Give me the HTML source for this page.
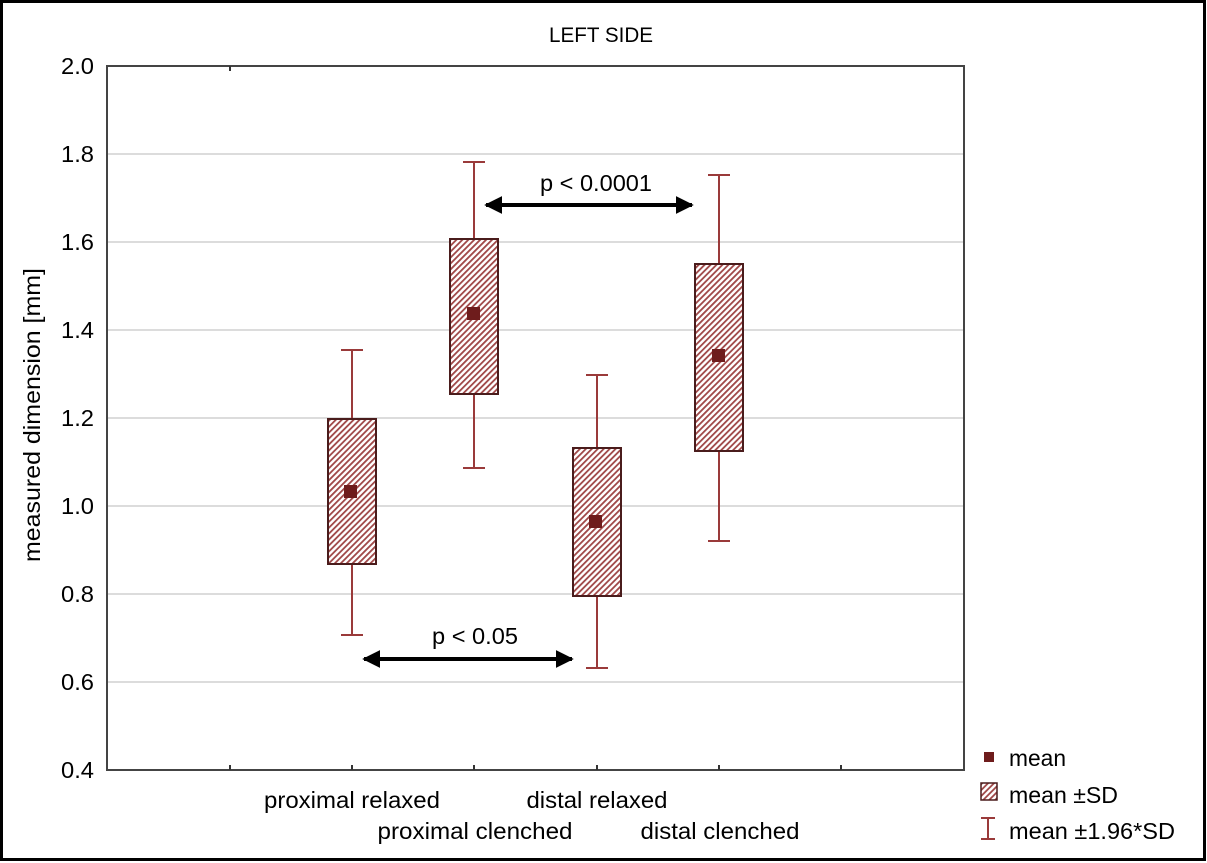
<!DOCTYPE html>
<html><head><meta charset="utf-8"><style>
html,body{margin:0;padding:0;background:#fff}
svg{display:block}
text{font-family:"Liberation Sans",sans-serif;fill:#000}
</style></head><body>
<svg width="1207" height="863" viewBox="0 0 1207 863" xmlns="http://www.w3.org/2000/svg">
<defs>
<pattern id="h" patternUnits="userSpaceOnUse" width="4.2" height="4.2" patternTransform="rotate(45)">
<rect width="4.2" height="4.2" fill="#fff"/>
<rect x="0" y="0" width="1.8" height="4.2" fill="#a04848"/>
</pattern>
<marker id="a" viewBox="0 0 10 10" refX="9" refY="5" markerWidth="4.5" markerHeight="4.5" orient="auto-start-reverse" markerUnits="strokeWidth">
<path d="M0,0 L10,5 L0,10 z" fill="#000"/>
</marker>
</defs>
<rect x="1.5" y="1.5" width="1203" height="858" fill="#fff" stroke="#000" stroke-width="3"/>
<text x="601" y="42" font-size="21" text-anchor="middle" textLength="104" lengthAdjust="spacingAndGlyphs">LEFT SIDE</text>
<g stroke="#dcdcdc" stroke-width="2">
<line x1="108" y1="154" x2="964" y2="154"/>
<line x1="108" y1="242" x2="964" y2="242"/>
<line x1="108" y1="330" x2="964" y2="330"/>
<line x1="108" y1="418" x2="964" y2="418"/>
<line x1="108" y1="506" x2="964" y2="506"/>
<line x1="108" y1="594" x2="964" y2="594"/>
<line x1="108" y1="682" x2="964" y2="682"/>
</g>
<rect x="107" y="66" width="857" height="704" fill="none" stroke="#444" stroke-width="2"/>
<g stroke="#333" stroke-width="2">
<line x1="230" y1="770" x2="230" y2="765"/><line x1="352" y1="770" x2="352" y2="765"/><line x1="474" y1="770" x2="474" y2="765"/><line x1="597" y1="770" x2="597" y2="765"/><line x1="719" y1="770" x2="719" y2="765"/><line x1="841" y1="770" x2="841" y2="765"/>
<line x1="230" y1="66" x2="230" y2="71"/>
</g>
<g font-size="23" text-anchor="end">
<text x="94" y="74" textLength="33" lengthAdjust="spacingAndGlyphs">2.0</text><text x="94" y="162" textLength="33" lengthAdjust="spacingAndGlyphs">1.8</text><text x="94" y="250" textLength="33" lengthAdjust="spacingAndGlyphs">1.6</text><text x="94" y="338" textLength="33" lengthAdjust="spacingAndGlyphs">1.4</text><text x="94" y="426" textLength="33" lengthAdjust="spacingAndGlyphs">1.2</text><text x="94" y="514" textLength="33" lengthAdjust="spacingAndGlyphs">1.0</text><text x="94" y="602" textLength="33" lengthAdjust="spacingAndGlyphs">0.8</text><text x="94" y="690" textLength="33" lengthAdjust="spacingAndGlyphs">0.6</text><text x="94" y="778" textLength="33" lengthAdjust="spacingAndGlyphs">0.4</text>
</g>
<text transform="translate(40,415) rotate(-90)" font-size="23" text-anchor="middle" textLength="294" lengthAdjust="spacingAndGlyphs">measured  dimension [mm]</text>
<g stroke="#9a3a3a" stroke-width="2">
<line x1="352" y1="350" x2="352" y2="635"/><line x1="341" y1="350" x2="363" y2="350"/><line x1="341" y1="635" x2="363" y2="635"/>
<line x1="474" y1="162" x2="474" y2="468"/><line x1="463" y1="162" x2="485" y2="162"/><line x1="463" y1="468" x2="485" y2="468"/>
<line x1="597" y1="375" x2="597" y2="668"/><line x1="586" y1="375" x2="608" y2="375"/><line x1="586" y1="668" x2="608" y2="668"/>
<line x1="719" y1="175" x2="719" y2="541"/><line x1="708" y1="175" x2="730" y2="175"/><line x1="708" y1="541" x2="730" y2="541"/>
</g>
<g fill="url(#h)" stroke="#4a1c1c" stroke-width="2">
<rect x="328" y="419" width="48" height="145"/>
<rect x="450" y="239" width="48" height="155"/>
<rect x="573" y="448" width="48" height="148"/>
<rect x="695" y="264" width="48" height="187"/>
</g>
<g fill="#6e1c1c">
<rect x="344" y="485" width="13" height="13"/>
<rect x="467" y="307" width="13" height="13"/>
<rect x="589" y="515" width="13" height="13"/>
<rect x="712" y="349" width="13" height="13"/>
</g>
<line x1="486" y1="205" x2="692" y2="205" stroke="#000" stroke-width="4" marker-start="url(#a)" marker-end="url(#a)"/>
<text x="596" y="191" font-size="23" text-anchor="middle" textLength="112" lengthAdjust="spacingAndGlyphs">p &lt; 0.0001</text>
<line x1="364" y1="659" x2="572" y2="659" stroke="#000" stroke-width="4" marker-start="url(#a)" marker-end="url(#a)"/>
<text x="475" y="644" font-size="23" text-anchor="middle" textLength="86" lengthAdjust="spacingAndGlyphs">p &lt; 0.05</text>
<g font-size="23" text-anchor="middle">
<text x="352" y="808" textLength="176" lengthAdjust="spacingAndGlyphs">proximal relaxed</text>
<text x="597" y="808" textLength="141" lengthAdjust="spacingAndGlyphs">distal relaxed</text>
<text x="475" y="839" textLength="195" lengthAdjust="spacingAndGlyphs">proximal clenched</text>
<text x="720" y="839" textLength="159" lengthAdjust="spacingAndGlyphs">distal clenched</text>
</g>
<rect x="984" y="752" width="10" height="10" fill="#6e1c1c"/>
<text x="1009" y="766" font-size="23" textLength="57" lengthAdjust="spacingAndGlyphs">mean</text>
<rect x="981" y="783" width="16" height="17" fill="url(#h)" stroke="#4a1c1c" stroke-width="1.5"/>
<text x="1009" y="803" font-size="23" textLength="109" lengthAdjust="spacingAndGlyphs">mean ±SD</text>
<g stroke="#9a3a3a" stroke-width="2"><line x1="988" y1="818" x2="988" y2="839"/><line x1="981" y1="818" x2="995" y2="818"/><line x1="981" y1="839" x2="995" y2="839"/></g>
<text x="1009" y="839" font-size="23" textLength="166" lengthAdjust="spacingAndGlyphs">mean ±1.96*SD</text>
</svg>
</body></html>
